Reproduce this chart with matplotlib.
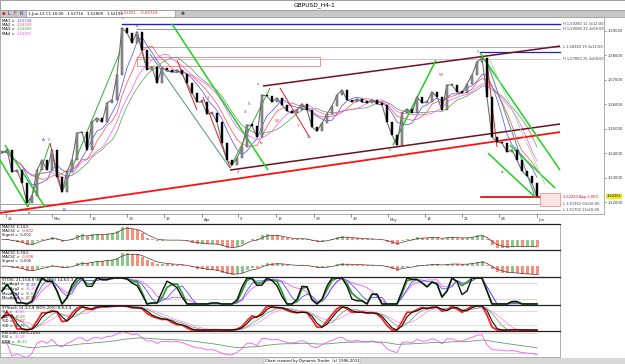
import matplotlib
matplotlib.use("Agg")
import matplotlib.pyplot as plt
from matplotlib.patches import Rectangle
import numpy as np
import pandas as pd

W, H = 625, 364

# H4 closes, one value every 4 bars
closes = [1.5402, 1.5414, 1.5324, 1.5332, 1.5279, 1.5198, 1.5226, 1.5332, 1.5373, 1.5332,
          1.5414, 1.5304, 1.5242, 1.5324, 1.5373, 1.5483, 1.5487, 1.5414, 1.5528, 1.5545,
          1.5528, 1.5606, 1.5618, 1.5720, 1.5912, 1.5892, 1.5851, 1.5896, 1.5822, 1.5741,
          1.5753, 1.5687, 1.5749, 1.5741, 1.5732, 1.5741, 1.5724, 1.5687, 1.5647, 1.5610,
          1.5610, 1.5561, 1.5565, 1.5528, 1.5442, 1.5373, 1.5353, 1.5381, 1.5426, 1.5516,
          1.5512, 1.5467, 1.5638, 1.5634, 1.5610, 1.5626, 1.5598, 1.5573, 1.5565, 1.5577,
          1.5602, 1.5577, 1.5508, 1.5491, 1.5524, 1.5561, 1.5594, 1.5638, 1.5659, 1.5618,
          1.5610, 1.5622, 1.5610, 1.5606, 1.5618, 1.5602, 1.5598, 1.5528, 1.5475, 1.5434,
          1.5565, 1.5581, 1.5565, 1.5630, 1.5606, 1.5610, 1.5651, 1.5630, 1.5577, 1.5679,
          1.5679, 1.5651, 1.5647, 1.5683, 1.5720, 1.5773, 1.5789, 1.5630, 1.5467, 1.5447,
          1.5442, 1.5406, 1.5414, 1.5373, 1.5328, 1.5308, 1.5279, 1.5225]

date_ticks = [0.8, 10, 17.6, 25, 32.4, 40, 47.2, 54.8, 62.4, 69.8, 77.2, 84.6, 92, 99.4, 107]
date_labels = ["26", "Mar", "12", "19", "26", "Apr", "9", "16", "23", "30",
               "May", "14", "21", "28", "Jun"]
price_ticks = [1.52, 1.53, 1.54, 1.55, 1.56, 1.57, 1.58, 1.59]

# horizontal levels: price, start bar, colour, width, label
levels = [
    (1.5928, 24.0, "#2020c0", 1.0, "H 1,59280 11.3x12:00"),
    (1.5908, 27.0, "#808080", 0.6, "H 1,59080 22.3x08:00"),
    (1.5834, 27.6, "#909090", 0.5, "L 1,58340 19.3x12:00"),
    (1.5785, 27.0, "#b0b0b0", 0.5, "H 1,57850 25.3x08:00"),
    (1.5814, 95.6, "#2020c0", 0.9, None),
    (1.5222, 95.8, "#e00000", 1.2, "1,52220 App 1,000"),
    (1.51952, -0.4, "#909090", 0.6, "L 1,51952 03x16:00"),
    (1.51702, -0.4, "#909090", 0.6, "L 1,51702 13x16:00"),
]

# trend lines: bar0, price0, bar1, price1, colour, width
trendlines = [
    (-0.4, 1.5157, 111.6, 1.5487, "#ff1010", 1.3),
    (45.6, 1.5332, 111.6, 1.5520, "#701020", 1.1),
    (52.2, 1.5675, 111.6, 1.5838, "#701020", 1.1),
    (-0.4, 1.5373, 5.2, 1.5181, "#20d020", 1.1),
    (0.6, 1.5434, 8.6, 1.5181, "#20d020", 1.1),
    (34.0, 1.5928, 53.2, 1.5332, "#20d020", 1.1),
    (95.6, 1.5810, 111.6, 1.5332, "#20d020", 1.1),
    (101.6, 1.5434, 110.6, 1.5259, "#20d020", 1.1),
    (97.2, 1.5401, 106.6, 1.5222, "#20d020", 1.1),
    (78.2, 1.5434, 86.8, 1.5781, "#20d020", 1.1),
    (12.2, 1.5250, 23.6, 1.5814, "#30b030", 0.7),
    (45.6, 1.5340, 53.6, 1.5667, "#30b030", 0.7),
    (5.2, 1.5181, 9.6, 1.5442, "#30b030", 0.7),
    (35.0, 1.5781, 39.0, 1.5577, "#e02020", 0.7),
    (40.2, 1.5630, 45.6, 1.5344, "#e02020", 0.7),
    (55.6, 1.5667, 61.6, 1.5463, "#e02020", 0.7),
    (27.0, 1.5896, 28.6, 1.5769, "#e02020", 0.7),
    (9.6, 1.5442, 12.0, 1.5242, "#e02020", 0.7),
    (97.0, 1.5773, 99.0, 1.5426, "#e02020", 0.7),
    (29.6, 1.5806, 45.6, 1.5340, "#5f9f8f", 0.8),
    (97.0, 1.5773, 106.6, 1.5224, "#5f9f8f", 0.8),
    (97.6, 1.5781, 108.6, 1.5273, "#a0d8a0", 0.6),
]

# wave labels: bar, price, text, colour
wave_labels = [
    (24.0, 1.5953, "5", "#4040c0"), (27.0, 1.5920, "4", "#4040c0"),
    (8.2, 1.5455, "A", "#2040ff"), (9.4, 1.5455, "C", "#404040"),
    (12.4, 1.5169, "B", "#2040ff"), (5.4, 1.5157, "a", "#404040"),
    (41.2, 1.5626, "1", "#4040c0"), (47.2, 1.5324, "2", "#4040c0"),
    (48.6, 1.5569, "3", "#4040c0"), (49.4, 1.5602, "5", "#4040c0"),
    (51.2, 1.5683, "c", "#404040"), (51.8, 1.5442, "b", "#404040"),
    (55.0, 1.5532, "W", "#c04040"), (59.0, 1.5512, "Y", "#c04040"),
    (61.2, 1.5467, "Z", "#c04040"), (77.6, 1.5414, "c", "#404040"),
    (78.6, 1.5385, "S", "#c04040"), (87.8, 1.5589, "x", "#c04040"),
    (87.8, 1.5720, "W", "#c04040"), (95.2, 1.5818, "y", "#c04040"),
    (100.0, 1.5324, "a", "#404040"),
]

ma_names = ["MA1", "MA2", "MA3", "MA4"]
ma_vals = ["1,52744", "1,54209", "1,54849", "1,54955"]
ma_windows = [5, 7, 12, 10]
ma_colors = ["#4848ff", "#ff4848", "#50a050", "#ff50ff"]

FS = 2.7


def fax(x0, y0, x1, y1):
    return fig.add_axes([x0 / W, 1 - y1 / H, (x1 - x0) / W, (y1 - y0) / H])


def ftext(x, y, s, **kw):
    kw.setdefault("fontsize", FS)
    kw.setdefault("va", "center")
    return fig.text(x / W, 1 - y / H, s, **kw)


def readout(x, y, name, value, color):
    # name in black, value in its colour right after it
    t = ftext(x, y, name + " =")
    over.annotate(value, xy=(1, 0.5), xycoords=t, xytext=(1.5, 0), textcoords="offset points",
                  va="center", ha="left", fontsize=FS, color=color)


def clean(ax, xmax=111.6):
    ax.set_xlim(-0.4, xmax)
    ax.set_xticks([])
    ax.set_yticks([])
    for k, sp in ax.spines.items():
        sp.set_color("#a0a0a0")
        sp.set_linewidth(0.6)
    ax.spines["top"].set_color("#202020")
    ax.spines["top"].set_linewidth(0.9)
    ax.spines["bottom"].set_visible(False)


fig = plt.figure(figsize=(W / 100, H / 100), dpi=100)
fig.patch.set_facecolor("white")

# overlay for readouts, drawn above every panel
over = fig.add_axes([0, 0, 1, 1], facecolor="none")
over.axis("off")
over.set_zorder(10)

# title bar and toolbar
fig.patches.append(Rectangle((0, 1 - 10 / H), 1, 10 / H, transform=fig.transFigure,
                             facecolor="white", edgecolor="#909090", lw=0.6))
fig.patches.append(Rectangle((0, 1 - 17 / H), 1, 7 / H, transform=fig.transFigure,
                             facecolor="#c8c8c8", edgecolor="#909090", lw=0.4))
fig.patches.append(Rectangle((26 / W, 1 - 16.5 / H), 149 / W, 6 / H, transform=fig.transFigure,
                             facecolor="white", edgecolor="#808080", lw=0.4))
ftext(315, 5, "GBPUSD_H4-1", fontsize=4.2, ha="center")
ftext(2, 13.5, "\u25cf", color="#e02020", fontsize=3)
ftext(7, 13.5, "L", color="#2020c0", fontsize=3.4)
ftext(13, 13.5, "F", color="#c02020", fontsize=3.4)
ftext(19, 13.5, "R", color="#2020c0", fontsize=3.4)
ftext(28, 13.5, "1-Jun-12 C1 16:00   1,52716   1,52809   1,52192", fontsize=2.8)
ftext(120, 13.5, "1,52251   -0,00729", fontsize=2.8, color="#e02020")
ftext(181, 13.5, "\u271a", fontsize=3.4, color="#303030")

# ---- main price panel
ax = fax(0, 17, 604, 214)
ax.set_xlim(-0.4, 120.4)
ax.set_ylim(1.51527, 1.59567)
for sp in ax.spines.values():
    sp.set_color("#a0a0a0")
    sp.set_linewidth(0.6)

s = pd.Series(closes)
idx = np.arange(len(closes))
opens = np.array([closes[0]] + closes[:-1])
cl = np.array(closes)

for name, w, c in zip(ma_names, ma_windows, ma_colors):
    ax.plot(idx, s.rolling(w, min_periods=1).mean(), color=c, lw=0.5, zorder=2)

for x0, p0, x1, p1, c, lw in trendlines:
    ax.plot([x0, x1], [p0, p1], color=c, lw=lw, zorder=3, solid_capstyle="butt")

for p, start, c, lw, lab in levels:
    ax.plot([start, 111.6], [p, p], color=c, lw=lw, zorder=1)
    if lab:
        ax.text(112.2, p, lab, fontsize=2.6, va="center",
                color="#e00000" if c == "#e00000" else "#404040")

ax.add_patch(Rectangle((27, 1.5757), 36.6, 0.0036, facecolor="none",
                       edgecolor="#f08080", lw=0.6, zorder=1))
ax.add_patch(Rectangle((107.6, 1.5185), 4, 0.0053, facecolor="#fde4e4",
                       edgecolor="#f09090", lw=0.6, zorder=1))

up = cl >= opens
body = np.maximum(np.abs(cl - opens), 0.0006)
bottom = np.minimum(cl, opens)
ax.plot(idx, cl, color="#707070", lw=0.8, zorder=4)
ax.bar(idx[up], body[up], bottom=bottom[up], width=0.5, color="#9a9a9a",
       edgecolor="#303030", lw=0.3, zorder=5)
ax.bar(idx[~up], body[~up], bottom=bottom[~up], width=0.5, color="#000000",
       edgecolor="#000000", lw=0.3, zorder=5)

for x, p, t, c in wave_labels:
    ax.text(x, p, t, fontsize=3, color=c, ha="center", va="center", zorder=6)

ax.yaxis.tick_right()
ax.set_yticks(price_ticks)
ax.set_yticklabels([f"{p:.5f}".replace(".", ",") for p in price_ticks])
ax.tick_params(axis="y", labelsize=2.6, length=1.5, width=0.4, pad=1, colors="#303030")
ax.set_xticks([])
ax.text(1.004, 1.52251, "1,52251", transform=ax.get_yaxis_transform(), fontsize=2.6,
        va="center", ha="left", bbox=dict(boxstyle="square,pad=0.12", fc="#f0f000", ec="none"))

for k, (name, v, c) in enumerate(zip(ma_names, ma_vals, ma_colors)):
    readout(2, 20.5 + 4.4 * k, name, v, c)

# ---- date row
axd = fax(0, 214, 560, 224)
axd.set_xlim(-0.4, 111.6)
axd.set_ylim(0, 1)
axd.axis("off")
for t, lab in zip(date_ticks, date_labels):
    axd.plot([t, t], [0.75, 1.0], color="#404040", lw=0.4)
    axd.text(t + 0.3, 0.45, lab, fontsize=FS, va="center", ha="left", color="#303030")


def ema(x, n):
    return x.ewm(span=n, adjust=False).mean()


def stoch(n):
    lo = s.rolling(n, min_periods=1).min()
    hi = s.rolling(n, min_periods=1).max()
    return ((s - lo) / (hi - lo).replace(0, np.nan) * 100).fillna(50)


# ---- MACD panels
for (y0, y1, fast, slow, title, v1, v2) in [
        (224, 250, 3, 8, "MACSC 5,14,5", "-0,002", "-0,002"),
        (250, 277, 3, 16, "MACSC 5,34,5", "-0,008", "-0,006")]:
    axm = fax(0, y0, 560, y1)
    clean(axm)
    m = ema(s, fast) - ema(s, slow)
    sig = ema(m, 3)
    rising = m.diff().fillna(0) >= 0
    axm.bar(idx, m, width=0.6, color=np.where(rising, "#8cc88c", "#f4907c"), zorder=2)
    axm.plot(idx, sig, color="#603030", lw=0.5, zorder=3)
    span = m.max() - m.min()
    axm.set_ylim(m.min() - 0.08 * span, m.max() + 0.12 * span)
    ftext(2, y0 + 2.6, title)
    readout(2, y0 + 7.0, "MACSC", v1, "#e02020")
    readout(2, y0 + 11.4, "Signal", v2, "#202020")

# ---- STOSC panel
axs = fax(0, 277, 560, 305)
clean(axs)
axs.set_ylim(-4, 104)
axs.hlines([20, 80], -0.4, 107, color="#c8c8c8", lw=0.5)
axs.plot(idx, stoch(9).rolling(3, min_periods=1).mean(), color="#ff50ff", lw=0.6)
axs.plot(idx, stoch(6).rolling(3, min_periods=1).mean(), color="#5050ff", lw=0.6)
axs.plot(idx, stoch(5).rolling(2, min_periods=1).mean(), color="#30a030", lw=1.3)
axs.plot(idx, stoch(4).rolling(2, min_periods=1).mean(), color="#101010", lw=1.0)
ftext(2, 279.8, "STOSC 21,13,8,8 (80%-20%) 14,8,5,3")
for k, (n, v, c) in enumerate([("MovAvg1", "41,48", "#4040ff"), ("MovAvg2", "30,30", "#ff40ff"),
                               ("MovAvg3", "55,66", "#30a030"), ("MovAvg4", "67,87", "#c02020")]):
    readout(2, 284.5 + 4.6 * k, n, v, c)

# ---- STOCH panel
axk = fax(0, 305, 560, 331)
clean(axk)
axk.set_ylim(-4, 104)
axk.hlines([20, 80], -0.4, 107, color="#d0d0d0", lw=0.5)
k14 = stoch(12).rolling(2, min_periods=1).mean()
axk.plot(idx, k14.rolling(6, min_periods=1).mean(), color="#ff80ff", lw=0.5)
axk.plot(idx, k14.rolling(4, min_periods=1).mean(), color="#70b070", lw=0.6)
axk.plot(idx, k14, color="#ff2020", lw=1.3)
axk.plot(idx, k14.rolling(2, min_periods=1).mean(), color="#101010", lw=0.8)
ftext(2, 307.6, "STStoch 14,3,5,8 (80%-20%) 8,8,3,4")
for k, (n, v, c) in enumerate([("%K", "30,66", "#ff40ff"), ("%D", "18,08", "#30a030"),
                               ("%D", "20,07", "#e02020"), ("%D", "38,25", "#303030")]):
    readout(2, 312.2 + 4.6 * k, n, v, c)

# ---- RSI panel
axr = fax(0, 331, 560, 357)
clean(axr)
axr.spines["bottom"].set_visible(True)
axr.set_ylim(8, 86)
axr.hlines([20, 80], -0.4, 107, color="#c8c8c8", lw=0.5)
d = s.diff().fillna(0)
gain = d.clip(lower=0).ewm(alpha=1 / 8, adjust=False).mean()
loss = (-d.clip(upper=0)).ewm(alpha=1 / 8, adjust=False).mean()
rsi = (100 - 100 / (1 + gain / loss.replace(0, np.nan))).fillna(50)
axr.plot(idx, rsi, color="#ff50ff", lw=0.6)
axr.plot(idx, ema(rsi, 20), color="#60a060", lw=0.6)
ftext(2, 333, "RSI 8,80 (80%-20%)")
readout(2, 337.5, "RSI", "26,34", "#ff40ff")
readout(2, 342.0, "EMA", "36,12", "#30a030")

# footer
fig.patches.append(Rectangle((0, 0), 1, 6 / H, transform=fig.transFigure,
                             facecolor="#d8d8d8", edgecolor="none"))
ftext(312, 361, "Chart created by Dynamic Trader  (c) 1996-2011", ha="center", fontsize=2.8,
      bbox=dict(boxstyle="square,pad=0.2", fc="white", ec="#a0a0a0", lw=0.3))

fig.savefig("out.png", dpi=100)
